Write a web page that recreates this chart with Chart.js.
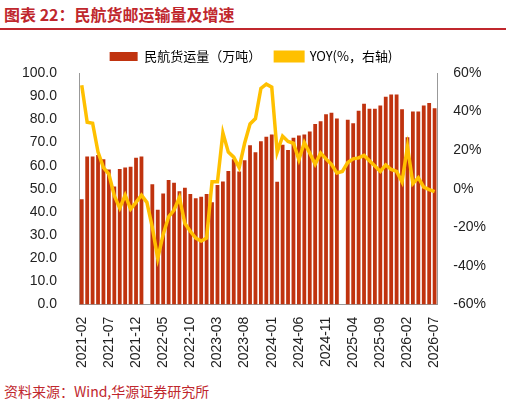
<!DOCTYPE html>
<html><head><meta charset="utf-8">
<script src="https://cdn.jsdelivr.net/npm/chart.js@4"></script>
<style>
body{margin:0;width:506px;height:408px;background:#fff;font-family:"Noto Sans CJK SC",sans-serif;position:relative;overflow:hidden}
#title{position:absolute;left:4px;top:2px;font-size:16px;font-weight:bold;color:#C0272D;}
#line{position:absolute;left:0;top:28px;width:506px;height:2px;background:#C0272D}
#src{position:absolute;left:4px;top:381px;font-size:14px;color:#C0272D}
#wrap{position:absolute;left:0;top:36px;width:506px;height:340px}
</style></head><body>
<div id="title">图表 22：民航货邮运输量及增速</div><div id="line"></div>
<div id="wrap"><canvas id="c"></canvas></div>
<div id="src">资料来源：Wind,华源证券研究所</div>
<script>
const tickLabels=["2021-02","2021-07","2021-12","2022-05","2022-10","2023-03","2023-08","2024-01","2024-06","2024-11","2025-04","2025-09","2026-02","2026-07"];
const cargo=[45.5,64,64,64.6,62.8,58.3,51,58.6,59.2,59.5,63.4,64,null,52,41,48,53.8,52.6,49,50.5,47.8,45.9,46.6,47.8,44.2,51.6,53.2,57.7,62.8,57.5,62.3,68.8,65.8,70.5,72.5,73.5,53,69,66.8,72,73,73.5,74.7,78,79.2,82.2,82.8,80.4,null,79.8,78.3,83.7,86.7,84.6,84.6,86,89.7,90.7,90.7,84.3,72.3,83.4,83.4,86,87,84.8];
const yoy=[53.6,34.5,34,19,11,7.6,-3.6,-10,-3.3,-10.5,-7,-3.3,-7,-20,-36,-23.6,-14.5,-11,-4.5,-18,-22,-25.5,-27,-25.5,3.6,3.6,29,19,16.4,11,23.6,33.6,36.4,52,54.2,52.7,19,27.3,24.5,23.6,15,24,18.5,12.7,18.5,15.5,12.7,8.2,9,13.6,15.5,16,17.3,14.5,11.8,9,12.4,10,9,3.6,21.8,2.7,5.8,0.9,-0.4,-1.5];
const cats=cargo.map((v,i)=>i%5===0?tickLabels[i/5]:"");
const f="Arial, 'Liberation Sans', sans-serif";
new Chart(document.getElementById('c'),{
 data:{labels:cats,datasets:[
  {type:'bar',label:'民航货运量（万吨）',data:cargo,backgroundColor:'#C0330F',yAxisID:'y',barPercentage:0.7,categoryPercentage:1,order:2},
  {type:'line',label:'YOY(%，右轴)',data:yoy,borderColor:'#FFC000',backgroundColor:'#FFC000',borderWidth:3.5,pointRadius:0,tension:0,yAxisID:'y1',order:1}
 ]},
 options:{responsive:true,maintainAspectRatio:false,animation:false,
  layout:{padding:{left:8,right:12,top:0,bottom:4}},
  plugins:{legend:{labels:{font:{size:13,family:"'Noto Sans CJK SC'"},color:'#333',boxWidth:28,boxHeight:9,padding:14,
     generateLabels:(ch)=>ch.data.datasets.map((d,i)=>({text:d.label,datasetIndex:i,fillStyle:d.backgroundColor,strokeStyle:d.backgroundColor,lineWidth:i?3:0,pointStyle:i?'line':'rect'}))}},
   tooltip:{enabled:false}},
  scales:{
   x:{grid:{display:false,drawTicks:true},border:{color:'#999'},ticks:{autoSkip:false,maxRotation:90,minRotation:90,padding:4,color:'#222',font:{size:14,family:f}}},
   y:{min:0,max:100,position:'left',grid:{display:false},border:{color:'#999'},ticks:{stepSize:10,padding:14,color:'#222',font:{size:14,family:f},callback:v=>v.toFixed(1)}},
   y1:{min:-60,max:60,position:'right',grid:{display:false},border:{color:'#999'},ticks:{stepSize:20,padding:8,color:'#222',font:{size:14,family:f},callback:v=>v+'%'}}
  }}
});
</script></body></html>
